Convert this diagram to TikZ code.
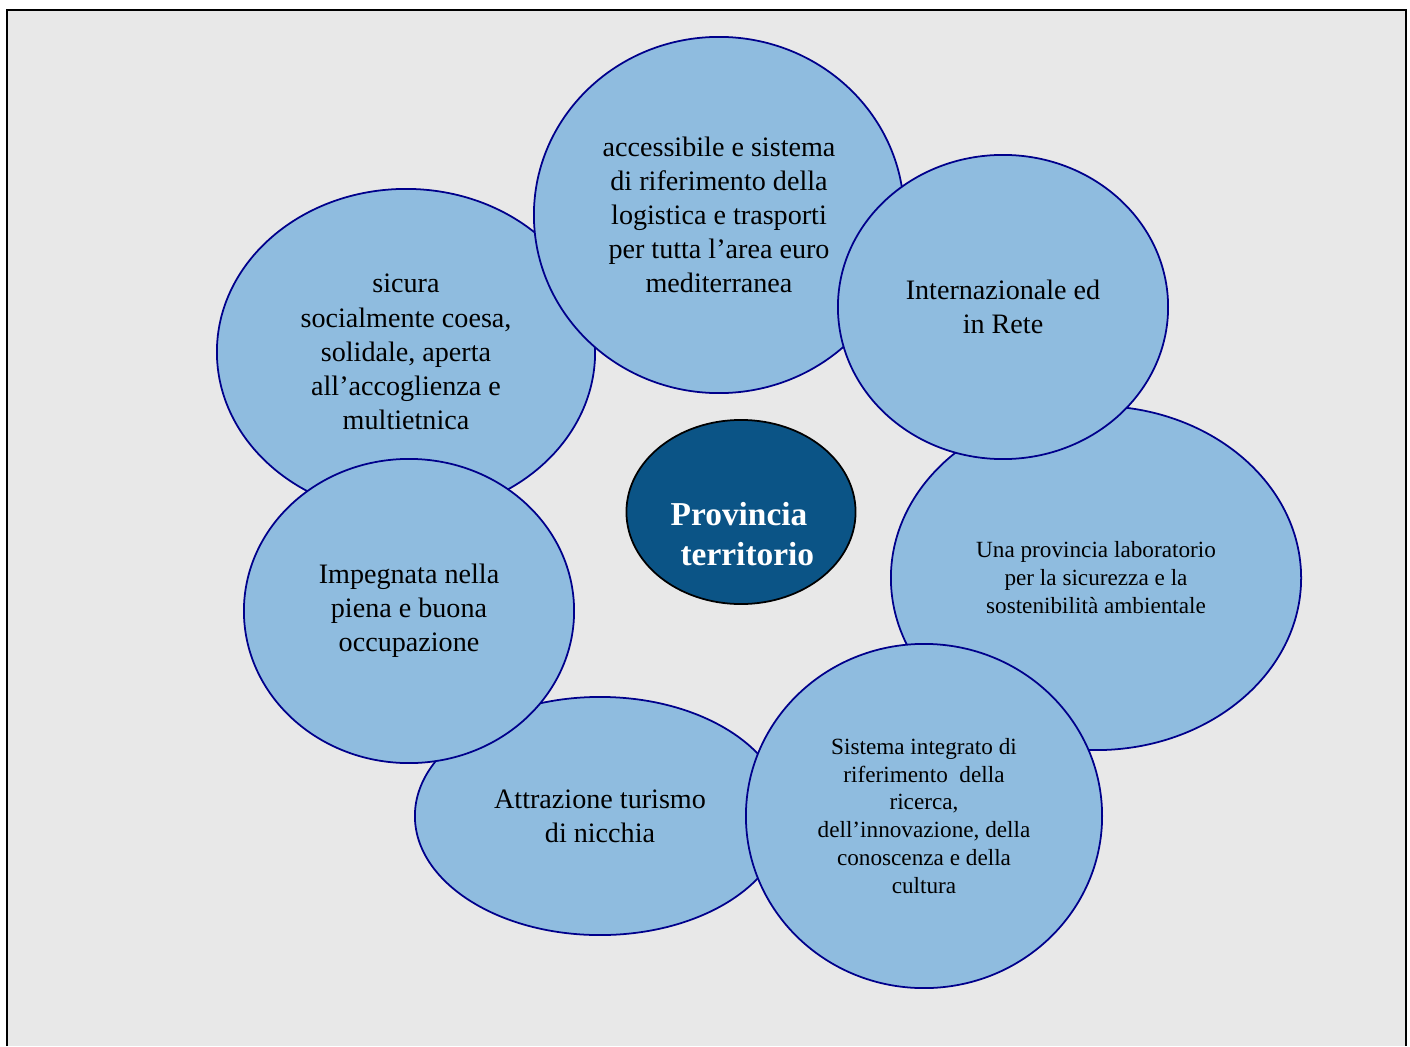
\documentclass[tikz,border=0pt]{standalone}
\usepackage{fontspec}
\setmainfont{Liberation Serif}
\usetikzlibrary{shapes.geometric}
\definecolor{bubblefill}{HTML}{8FBCDF}
\definecolor{bubbleline}{HTML}{00008B}
\definecolor{corefill}{HTML}{0B5486}
\definecolor{panel}{HTML}{E8E8E8}
\begin{document}
\begin{tikzpicture}[x=0.01cm, y=-0.01cm, bubble/.style = {ellipse, draw=bubbleline, fill=bubblefill, line width=0.5pt, inner sep=0pt, align=center, font=\fontsize{8}{9.7}\selectfont}, small/.style = {bubble, font=\fontsize{6.6}{7.95}\selectfont}, core/.style = {ellipse, draw=black, fill=corefill, line width=0.5pt, minimum width=2.29cm, minimum height=1.84cm}]
\useasboundingbox (0,0) rectangle (1410,1046);
\fill[panel] (7,10) rectangle (1406,1046);
\draw[line width=0.7pt] (7,1046) -- (7,10) -- (1406,10) -- (1406,1046);
\node[bubble, minimum width=3.78cm, minimum height=3.26cm] (sicura) at (406,352) {sicura\\socialmente coesa,\\solidale, aperta\\all’accoglienza e\\multietnica};
\node[bubble, minimum width=3.7cm, minimum height=3.56cm] (logistica) at (719,215) {accessibile e sistema\\di riferimento della\\logistica e trasporti\\per tutta l’area euro\\mediterranea};
\node[small, minimum width=4.1cm, minimum height=3.44cm] (lab) at (1096,578) {Una provincia laboratorio\\per la sicurezza e la\\sostenibilità ambientale};
\node[bubble, minimum width=3.3cm, minimum height=3.04cm] (rete) at (1003,307) {Internazionale ed\\in Rete};
\node[bubble, minimum width=3.7cm, minimum height=2.38cm] (turismo) at (600,816) {Attrazione turismo\\di nicchia};
\node[bubble, minimum width=3.3cm, minimum height=3.04cm] (lavoro) at (409,611) {Impegnata nella\\piena e buona\\occupazione};
\node[small, minimum width=3.56cm, minimum height=3.44cm] (ricerca) at (924,816) {Sistema integrato di\\riferimento\ \ della\\ricerca,\\dell’innovazione, della\\conoscenza e della\\cultura};
\node[core] (prov) at (741,512) {};
\node[align=center, text=white, font=\fontsize{9.5}{11.3}\selectfont\bfseries] (provtext) at (739,534) {Provincia\\\ \ territorio};
\end{tikzpicture}
\end{document}
